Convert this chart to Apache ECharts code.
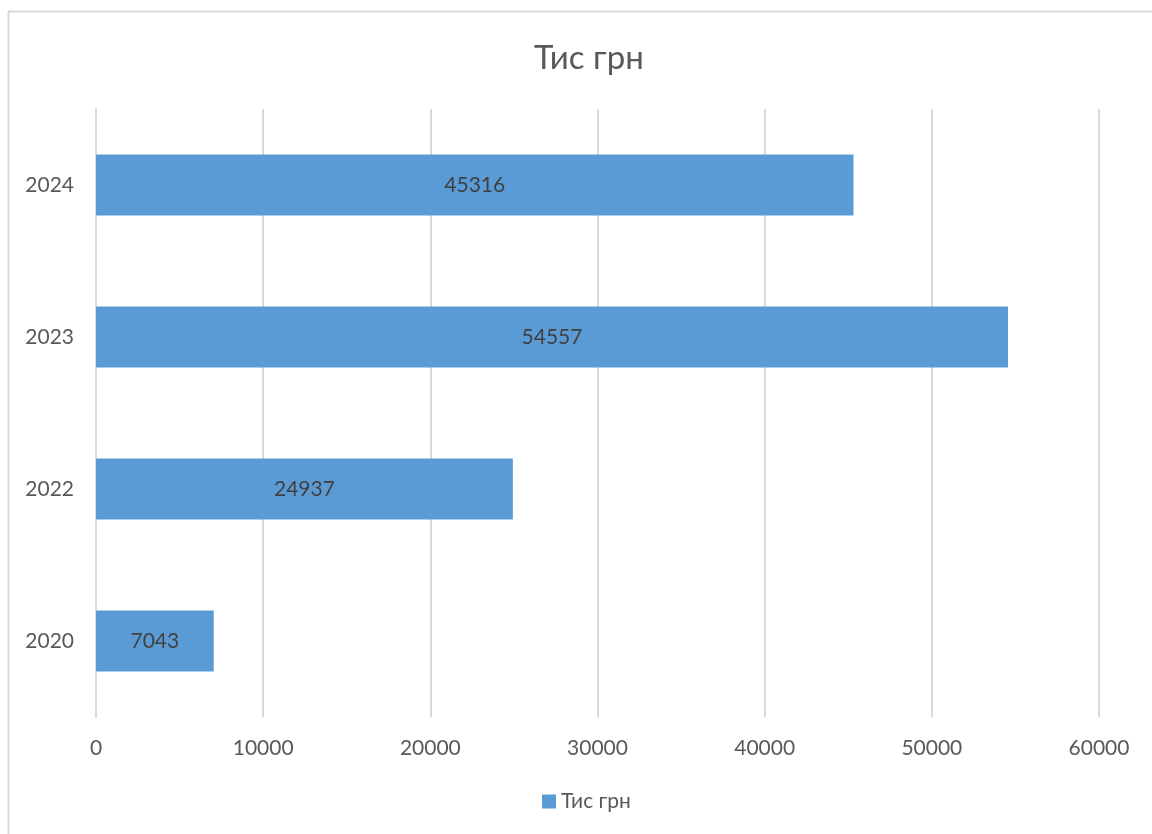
<!DOCTYPE html>
<html>
<head>
<meta charset="utf-8">
<script src="https://cdn.jsdelivr.net/npm/echarts@6/dist/echarts.min.js"></script>
<style>
html,body{margin:0;padding:0;background:#fff;}
#chart{width:1152px;height:834px;}
</style>
</head>
<body>
<div id="chart"></div>
<script>
const categories = ['2020', '2022', '2023', '2024'];
const values = [7043, 24937, 54557, 45316];
const seriesName = 'Тис грн';
const titleText = 'Тис грн';
const xTicks = [0, 10000, 20000, 30000, 40000, 50000, 60000];

const FONT = 'Lato, "Noto Sans", sans-serif';
const chart = echarts.init(document.getElementById('chart'));
chart.setOption({
  animation: false,
  textStyle: { fontFamily: FONT },
  title: {
    text: titleText,
    left: 529,
    top: 37,
    textStyle: { fontFamily: FONT, fontSize: 33, fontWeight: 'normal', color: '#595959' }
  },
  graphic: [{
    type: 'rect',
    silent: true,
    shape: { x: 8.5, y: 11.5, width: 1300, height: 1000 },
    style: { fill: 'none', stroke: '#d9d9d9', lineWidth: 2 }
  }],
  legend: {
    bottom: 17,
    left: 537,
    itemWidth: 14,
    itemHeight: 14,
    itemGap: 6,
    icon: 'rect',
    textStyle: { fontFamily: FONT, fontSize: 21, color: '#595959' },
    data: [seriesName]
  },
  grid: { left: 96, right: 53, top: 109, bottom: 117, containLabel: false },
  xAxis: {
    type: 'value',
    min: xTicks[0],
    max: xTicks[xTicks.length - 1],
    interval: 10000,
    axisLine: { show: false },
    axisTick: { show: false },
    axisLabel: { fontFamily: FONT, fontSize: 21, color: '#595959', margin: 21, formatter: v => String(v) },
    splitLine: { show: true, lineStyle: { color: '#d9d9d9', width: 2 } }
  },
  yAxis: {
    type: 'category',
    data: categories,
    axisLine: { show: true, lineStyle: { color: '#d9d9d9', width: 2 } },
    axisTick: { show: false },
    axisLabel: { fontFamily: FONT, fontSize: 21, color: '#595959', margin: 22 }
  },
  series: [{
    name: seriesName,
    type: 'bar',
    data: values,
    barWidth: '40%',
    itemStyle: { color: '#5b9bd5' },
    label: {
      show: true,
      position: 'inside',
      fontFamily: FONT,
      fontSize: 21,
      color: '#404040'
    }
  }]
});
</script>
</body>
</html>
